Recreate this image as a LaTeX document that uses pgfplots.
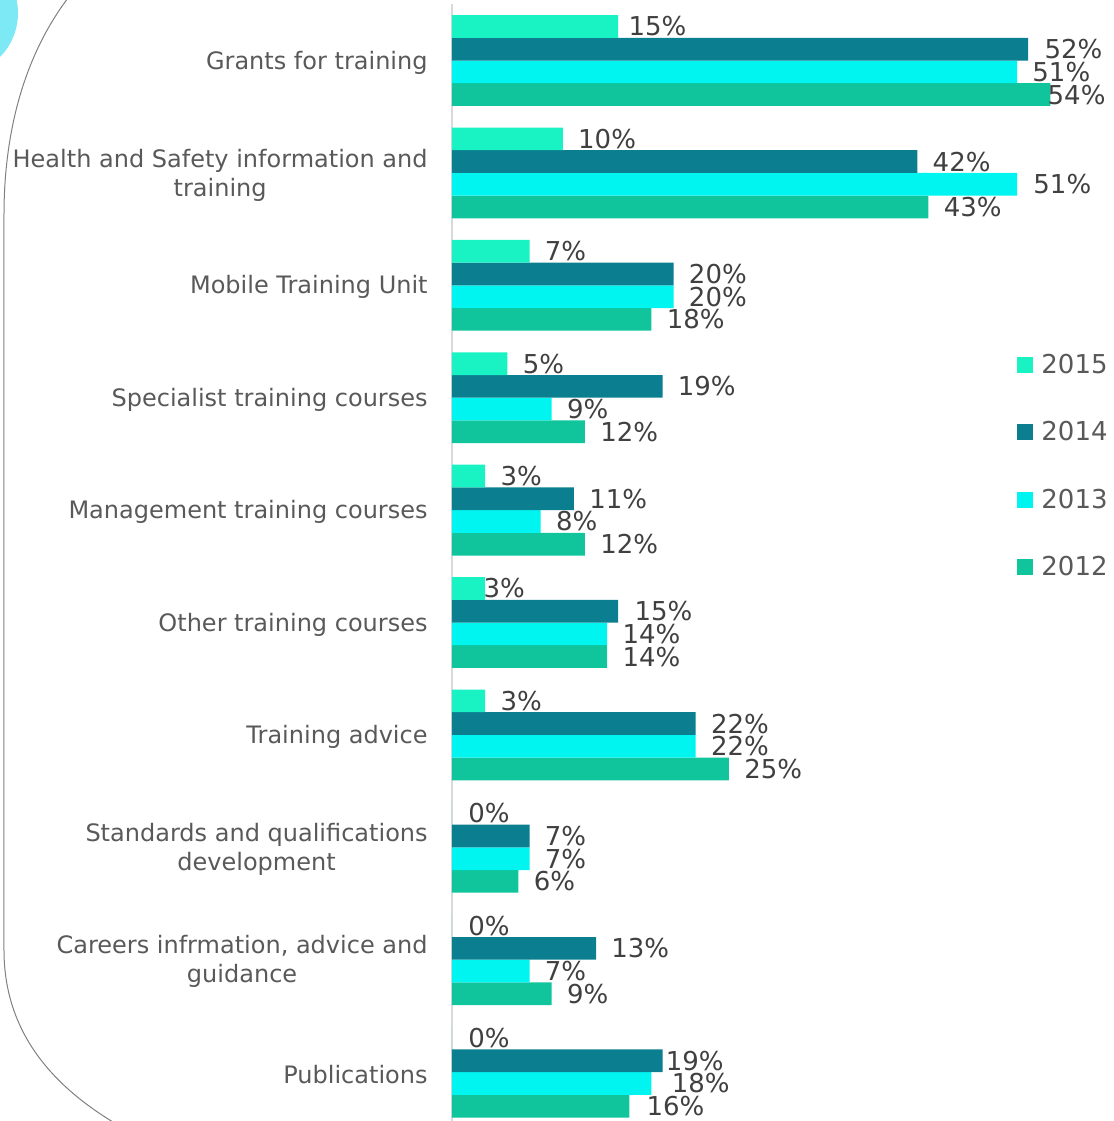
\documentclass[border=0pt]{standalone}
\usepackage{pgfplots}
\pgfplotsset{compat=1.18}
\usepackage{pgfplotstable}
\usepackage{fontspec}
\setmainfont{DejaVu Sans}
\definecolor{c15}{HTML}{19F2C3}
\definecolor{c14}{HTML}{0B7F8F}
\definecolor{c13}{HTML}{00F5F0}
\definecolor{c12}{HTML}{10C49C}
\definecolor{lab}{HTML}{595959}
\definecolor{val}{HTML}{404040}
\definecolor{blob}{HTML}{7DE9F5}

\pgfplotstableread{
idx y2015 y2014 y2013 y2012 s2015 s2014 s2013 s2012
0 15 52 51 54 5 8 7.5 -1.5
1 10 42 51 43 7.5 7.5 8 7.5
2 7 20 20 18 7.5 7.5 7.5 7.5
3 5 19 9 12 7.5 7.5 7.5 7.5
4 3 11 8 12 7.5 7.5 7.5 7.5
5 3 15 14 14 -1 8 7.5 7.5
6 3 22 22 25 7.5 7.5 7.5 7.5
7 0 7 7 6 8 7.5 7.5 7.5
8 0 13 7 9 8 7.5 7.5 7.5
9 0 19 18 16 8 1.5 10 8.5
}\data

\begin{document}
\begin{tikzpicture}
\begin{scope}[x=0.5pt, y=-0.5pt, shift={(-452,-4.3)}]
  \fill[blob] (-44.8,13) circle (62.8);
  \draw[gray, line width=0.5pt] (68,-2) .. controls (25,55) and (4,130) .. (4,215)
     -- (4,950) .. controls (4,1030) and (50,1085) .. (118,1125);
\end{scope}
\begin{axis}[
  at={(0,0)}, anchor=north west,
  scale only axis, width=332.4pt, height=562pt,
  xbar=0pt, bar width=11.35pt,
  xmin=0, xmax=60, ymin=-0.5, ymax=9.5, y dir=reverse,
  clip=false,
  separate axis lines,
  axis x line*=bottom, x axis line style={draw=none},
  axis y line*=left, y axis line style={draw=black!15, line width=1pt, -},
  xtick=\empty,
  ytick={0,...,9},
  yticklabels={Grants for training,{Health and Safety information and\\training},Mobile Training Unit,Specialist training courses,Management training courses,Other training courses,Training advice,{Standards and qualifications\\development},{Careers infrmation, advice and\\guidance},Publications},
  yticklabel style={align=center, font=\fontsize{12}{14.5}\selectfont, text=lab, inner sep=0pt, xshift=-12pt, yshift=-1pt},
  major tick length=0pt, tick style={draw=none},
  point meta=x,
  /pgf/number format/assume math mode=true,
  nodes near coords={\pgfmathprintnumber[fixed,precision=0]{\pgfplotspointmeta}\%},
  nodes near coords style={font=\fontsize{13}{15}\selectfont, text=val, anchor=west, inner sep=0pt, xshift=\sh pt},
  legend image code/.code={\fill[#1, draw=none] (0pt,-4.76pt) rectangle (8pt,3.24pt);},
  legend style={draw=none, fill=none, inner sep=0pt, at={(0.850,0.6898)}, anchor=north west,
    font=\fontsize{13}{15}\selectfont, text=lab, row sep=23.75pt, column sep=4pt,
    nodes={inner sep=0pt, text height=10pt, text depth=0pt}},
  legend cell align=left,
  reverse legend,
]
\addplot[fill=c12, draw=none, visualization depends on={\thisrow{s2012} \as \sh}] table[x=y2012, y=idx] {\data};
\addplot[fill=c13, draw=none, visualization depends on={\thisrow{s2013} \as \sh}] table[x=y2013, y=idx] {\data};
\addplot[fill=c14, draw=none, visualization depends on={\thisrow{s2014} \as \sh}] table[x=y2014, y=idx] {\data};
\addplot[fill=c15, draw=none, visualization depends on={\thisrow{s2015} \as \sh}] table[x=y2015, y=idx] {\data};
\legend{2012,2013,2014,2015}
\end{axis}
\pgfresetboundingbox
\begin{scope}[x=0.5pt, y=-0.5pt, shift={(-452,-4.3)}]
  \path[use as bounding box] (0,0) rectangle (1114,1121);
\end{scope}
\end{tikzpicture}
\end{document}
